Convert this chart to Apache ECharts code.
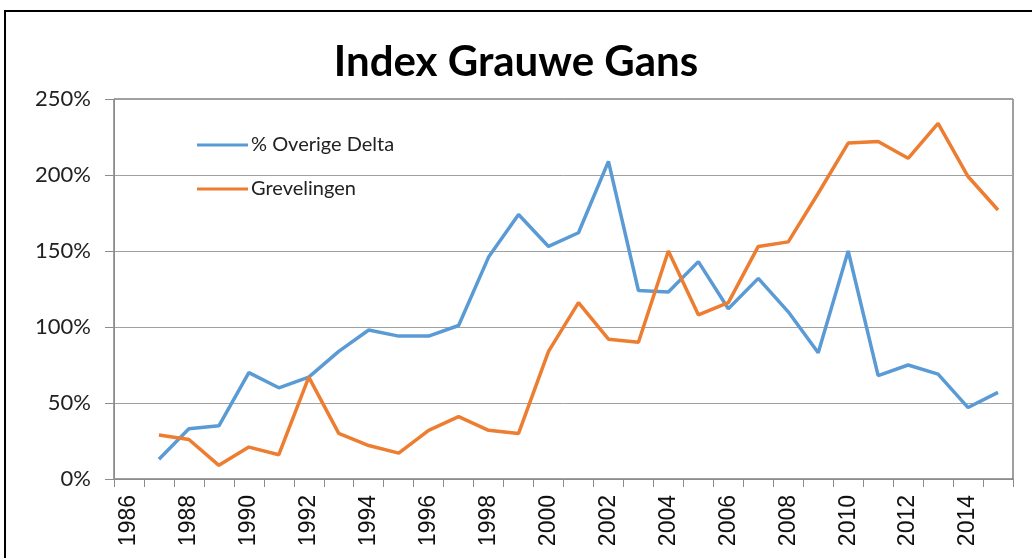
<!DOCTYPE html>
<html>
<head>
<meta charset="utf-8">
<script src="https://cdn.jsdelivr.net/npm/echarts@6/dist/echarts.min.js"></script>
<style>
    html, body { margin: 0; padding: 0; background: #fff; }
    #chart { width: 1032px; height: 558px; }
</style>
</head>
<body>
<div id="chart"></div>
<script>
    // jaren op de x-as
    let years = [];
    for (let y = 1986; y <= 2015; y++) { years.push(String(y)); }

    // index in procenten (1986 heeft geen waarde)
    let overigeDelta = [null, 13, 33, 35, 70, 60, 67, 84, 98, 94, 94, 101, 146, 174, 153,
        162, 209, 124, 123, 143, 112, 132, 110, 83, 150, 68, 75, 69, 47, 57];
    let grevelingen = [null, 29, 26, 9, 21, 16, 67, 30, 22, 17, 32, 41, 32, 30, 84,
        116, 92, 90, 150, 108, 116, 153, 156, 188, 221, 222, 211, 234, 199, 177];

    let seriesNames = ['% Overige Delta', 'Grevelingen'];
    let yTicks = [0, 50, 100, 150, 200, 250];

    let myChart = echarts.init(document.getElementById('chart'));

    myChart.setOption({
        animation: false,
        title: {
            text: 'Index Grauwe Gans',
            left: 'center',
            top: 41,
            padding: [0, 0, 0, 8],
            textStyle: {
                fontFamily: 'Lato',
                fontWeight: 'bold',
                fontSize: 42,
                color: '#000'
            }
        },
        legend: {
            orient: 'vertical',
            left: 197,
            top: 135,
            padding: 0,
            icon: 'rect',
            itemWidth: 51,
            itemHeight: 3,
            itemGap: 24,
            textStyle: {
                fontFamily: 'Lato',
                fontSize: 20,
                color: '#222',
                padding: [0, 0, 0, -2]
            },
            data: seriesNames
        },
        grid: {
            left: 114,
            top: 99,
            width: 899,
            height: 380,
            show: true,
            borderColor: '#404040',
            borderWidth: 1
        },
        xAxis: {
            type: 'category',
            data: years,
            boundaryGap: true,
            axisLine: { lineStyle: { color: '#8c8c8c', width: 1 } },
            axisTick: { show: true, interval: 0, length: 8, lineStyle: { color: '#8c8c8c' } },
            axisLabel: {
                interval: 1,
                rotate: 90,
                margin: 16,
                fontFamily: 'Liberation Sans',
                fontSize: 23,
                color: '#111'
            },
            splitLine: { show: false }
        },
        yAxis: {
            type: 'value',
            min: yTicks[0],
            max: yTicks[yTicks.length - 1],
            interval: 50,
            axisLine: { show: true, lineStyle: { color: '#8c8c8c', width: 1 } },
            axisTick: { show: true, length: 9, lineStyle: { color: '#8c8c8c' } },
            axisLabel: {
                margin: 23,
                formatter: '{value}%',
                fontFamily: 'Lato',
                fontSize: 22,
                color: '#222'
            },
            splitLine: { show: true, lineStyle: { color: '#a0a0a0', width: 1 } }
        },
        graphic: [
            {
                // zwarte kader rond de grafiek
                type: 'rect',
                shape: { x: 5, y: 11, width: 1100, height: 600 },
                style: { fill: 'none', stroke: '#000', lineWidth: 2 },
                z: 100
            }
        ],
        series: [
            {
                name: seriesNames[0],
                type: 'line',
                data: overigeDelta,
                symbol: 'none',
                lineStyle: { color: '#5b9bd5', width: 3.5 },
                itemStyle: { color: '#5b9bd5' }
            },
            {
                name: seriesNames[1],
                type: 'line',
                data: grevelingen,
                symbol: 'none',
                lineStyle: { color: '#ed7d31', width: 3.5 },
                itemStyle: { color: '#ed7d31' }
            }
        ]
    });

    window.addEventListener('resize', function () {
        myChart.resize();
    });
</script>
</body>
</html>
